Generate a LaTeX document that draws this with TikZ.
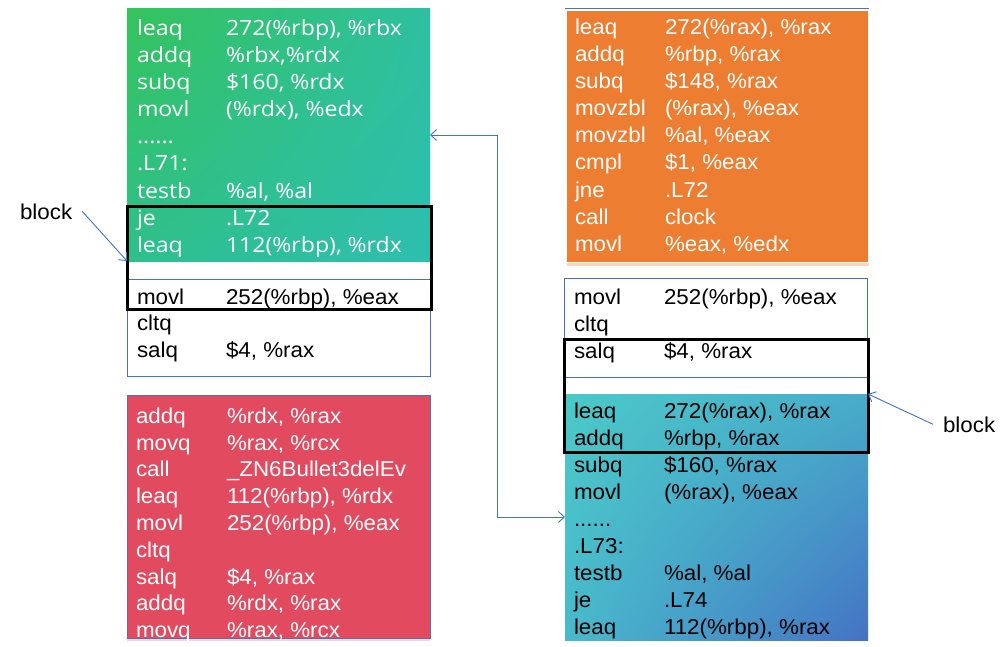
\documentclass[tikz,border=0pt]{standalone}
\usepackage{fontspec}
\setmainfont{Liberation Sans}
\newfontfamily\humanist{Open Sans}
\usepackage{graphicx}
\usetikzlibrary{arrows.meta,shadows,shadings}

\definecolor{accentblue}{HTML}{4472C4}
\definecolor{boxorange}{HTML}{ED7D31}
\definecolor{boxred}{HTML}{E24B5F}
\definecolor{gUL}{RGB}{52,195,92}
\definecolor{gUR}{RGB}{46,192,160}
\definecolor{gLL}{RGB}{46,192,140}
\definecolor{gLR}{RGB}{46,190,176}
\definecolor{tUL}{RGB}{75,201,200}
\definecolor{tUR}{RGB}{72,172,202}
\definecolor{tLL}{RGB}{72,186,204}
\definecolor{tLR}{RGB}{68,114,196}

% horizontal stretch applied to every listing line
\newcommand\asmxscale{1.04}
\newcommand\stretchx[1]{\scalebox{\asmxscale}[1]{#1}}
\newcommand\elided{......}

% #1 name prefix, #2 x of mnemonic, #3 x of operand, #4 first baseline, #5 line step, #6 lines
\newcommand\codeblock[6]{%
  \foreach [count=\i] \m/\o in {#6} {
    \node[asm] (#1m\i) at (#2, {#4+(\i-1)*#5}) {\stretchx{\m}};
    \node[asm] (#1o\i) at (#3, {#4+(\i-1)*#5}) {\stretchx{\o}};
  }}

\tikzset{
  asm/.style={anchor=base west, inner sep=0pt, outer sep=0pt,
    font=\fontsize{21.5}{24}\selectfont},
  panel/.style={anchor=north west, inner sep=0pt, outer sep=0pt, rectangle},
  outline/.style={panel, draw=accentblue, line width=0.9pt},
  highlight/.style={panel, draw=black, line width=3pt},
  pointer/.style={draw=accentblue, line width=0.9pt,
    -{Straight Barb[length=6pt,width=11pt]}},
  label/.style={anchor=base west, inner sep=0pt, outer sep=0pt,
    font=\fontsize{21.5}{24}\selectfont},
}

\begin{document}
\begin{tikzpicture}[x=1pt,y=-1pt]
\useasboundingbox[fill=white] (0,0) rectangle (1008,647);

% ---- panels ----
\node[panel, minimum width=303pt, minimum height=252pt,
  upper left=gUL, upper right=gUR, lower left=gLL, lower right=gLR] (gbox) at (127,9) {};
\node[outline, minimum width=302.5pt, minimum height=97pt] (lwhite) at (127.5,279) {};
\node[panel, minimum width=303pt, minimum height=243pt, fill=boxred, draw=accentblue, line width=0.8pt,
  drop shadow={shadow xshift=0pt, shadow yshift=-3pt, fill=boxred!40, opacity=0.6}] (rbox) at (127,395) {};

\node[panel, minimum width=302pt, minimum height=252pt, fill=boxorange, draw=white, line width=0.8pt,
  drop shadow={shadow xshift=1pt, shadow yshift=-4pt, fill=boxorange!45, opacity=0.7}] (obox) at (566,10) {};
\draw[accentblue, line width=0.9pt] ([shift={(-1pt,2pt)}]obox.north west) -- ([shift={(1pt,2pt)}]obox.north east);
\node[outline, minimum width=303pt, minimum height=99pt] (rwhite) at (564,278) {};
\node[panel, minimum width=303pt, minimum height=246pt,
  upper left=tUL, upper right=tUR, lower left=tLL, lower right=tLR] (tbox) at (565,394) {};

% ---- highlighted blocks ----
\node[highlight, minimum width=304pt, minimum height=103pt] (hl1) at (127,206) {};
\node[highlight, minimum width=304pt, minimum height=113pt] (hl2) at (564,339) {};

% ---- listings ----
\begin{scope}[asm/.append style={text=white, font=\humanist\fontsize{21}{24}\selectfont}]
\renewcommand\asmxscale{1.1}
\codeblock{g}{137}{226}{36}{27}{leaq/{272(\%rbp), \%rbx}, addq/{\%rbx,\%rdx}, subq/{\$160, \%rdx},
  movl/{(\%rdx), \%edx}, \elided/{}, .L71:/{}, testb/{\%al, \%al}, je/{.L72}, leaq/{112(\%rbp), \%rdx}}
\end{scope}

\codeblock{w}{137}{226}{304}{26.5}{movl/{252(\%rbp), \%eax}, cltq/{}, salq/{\$4, \%rax}}

\begin{scope}[asm/.append style={text=white}]
\codeblock{r}{136}{227}{423.3}{26.8}{addq/{\%rdx, \%rax}, movq/{\%rax, \%rcx}, call/{\_ZN6Bullet3delEv},
  leaq/{112(\%rbp), \%rdx}, movl/{252(\%rbp), \%eax}, cltq/{}, salq/{\$4, \%rax},
  addq/{\%rdx, \%rax}, movq/{\%rax, \%rcx}}
\codeblock{o}{575}{665}{35}{27}{leaq/{272(\%rax), \%rax}, addq/{\%rbp, \%rax}, subq/{\$148, \%rax},
  movzbl/{(\%rax), \%eax}, movzbl/{\%al, \%eax}, cmpl/{\$1, \%eax}, jne/{.L72}, call/{clock},
  movl/{\%eax, \%edx}}
\end{scope}

\codeblock{v}{574}{664}{304}{27}{movl/{252(\%rbp), \%eax}, cltq/{}, salq/{\$4, \%rax}}
\codeblock{t}{574}{664}{418}{27.1}{leaq/{272(\%rax), \%rax}, addq/{\%rbp, \%rax}, subq/{\$160, \%rax},
  movl/{(\%rax), \%eax}, \elided/{}, .L73:/{}, testb/{\%al, \%al}, je/{.L74}, leaq/{112(\%rbp), \%rax}}

% ---- labels and pointers ----
\node[label] (lblock) at (20,219) {\stretchx{block}};
\node[label] (rblock) at (943,432) {\stretchx{block}};
\draw[pointer] ([xshift=10pt]lblock.east) -- (gbox.south west);
\draw[pointer] ([xshift=-10pt]rblock.west) -- (tbox.north east);

% ---- jump between the two listings ----
\draw[pointer, {Straight Barb[length=6pt,width=11pt]}-{Straight Barb[length=6pt,width=11pt]}]
  (gbox.east) -- ++(67,0) |- (tbox.west);
\end{tikzpicture}
\end{document}
